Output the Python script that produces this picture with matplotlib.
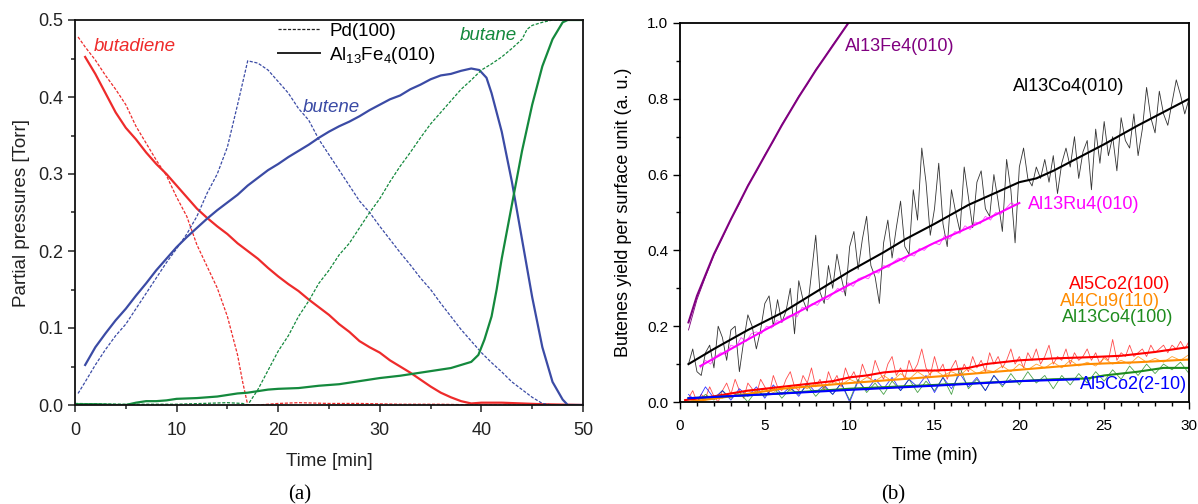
import numpy as np
import matplotlib
matplotlib.use("Agg")
import matplotlib.pyplot as plt
from matplotlib.lines import Line2D
from matplotlib.ticker import MultipleLocator

plt.rcParams['font.family'] = ['Liberation Sans', 'DejaVu Sans']
plt.rcParams['mathtext.default'] = 'regular'

# ---------------- Panel (a) data ----------------
# Al13Fe4(010) (solid)
fe_butadiene_t = [1, 2, 3, 4, 5, 6, 7, 8, 9, 10, 11, 12, 13, 14, 15, 16, 17, 18, 19, 20, 21, 22, 23, 24, 25, 26, 27, 28, 29, 30, 31, 32, 33, 34, 35, 36, 37, 38, 39, 40, 42, 44, 46, 50]
fe_butadiene_p = [0.452, 0.43, 0.405, 0.38, 0.36, 0.345, 0.328, 0.313, 0.30, 0.285, 0.27, 0.255, 0.243, 0.232, 0.222, 0.21, 0.20, 0.19, 0.178, 0.167, 0.157, 0.148, 0.137, 0.127, 0.117, 0.105, 0.095, 0.083, 0.075, 0.068, 0.058, 0.05, 0.042, 0.033, 0.024, 0.016, 0.01, 0.005, 0.002, 0.003, 0.003, 0.002, 0.001, 0.0]

fe_butene_t = [1, 2, 3, 4, 5, 6, 7, 8, 9, 10, 11, 12, 13, 14, 15, 16, 17, 18, 19, 20, 21, 22, 23, 24, 25, 26, 27, 28, 29, 30, 31, 32, 33, 34, 35, 36, 37, 38, 39, 39.8, 40.5, 41, 42, 43, 44, 45, 46, 47, 48, 48.5, 50]
fe_butene_p = [0.052, 0.075, 0.093, 0.11, 0.125, 0.142, 0.158, 0.175, 0.19, 0.205, 0.218, 0.23, 0.242, 0.253, 0.263, 0.273, 0.285, 0.295, 0.305, 0.313, 0.322, 0.33, 0.338, 0.347, 0.355, 0.362, 0.368, 0.375, 0.383, 0.39, 0.397, 0.402, 0.41, 0.416, 0.423, 0.428, 0.43, 0.434, 0.437, 0.435, 0.425, 0.405, 0.355, 0.29, 0.215, 0.14, 0.075, 0.03, 0.007, 0.0, 0.0]

fe_butane_t = [0, 2, 4, 5, 6, 7, 8, 9, 10, 12, 14, 15, 16, 17, 18, 19, 20, 22, 24, 26, 28, 30, 32, 33, 34, 36, 37, 38, 39, 39.7, 40.3, 41, 41.5, 42, 43, 44, 45, 46, 47, 48, 48.5, 50]
fe_butane_p = [0.001, 0.001, 0.0, 0.0, 0.003, 0.005, 0.005, 0.006, 0.008, 0.009, 0.011, 0.013, 0.015, 0.016, 0.018, 0.02, 0.021, 0.022, 0.025, 0.027, 0.031, 0.035, 0.038, 0.04, 0.042, 0.046, 0.048, 0.052, 0.056, 0.065, 0.085, 0.115, 0.15, 0.19, 0.26, 0.33, 0.39, 0.44, 0.475, 0.497, 0.5, 0.5]

# Pd(100) (dashed)
pd_butadiene_t = [0.3, 1, 2, 3, 4, 5, 6, 7, 8, 9, 10, 11, 12, 13, 14, 15, 16, 16.5, 17, 18, 20, 22, 25, 28, 32, 36, 40, 50]
pd_butadiene_p = [0.478, 0.465, 0.448, 0.428, 0.41, 0.39, 0.362, 0.34, 0.318, 0.298, 0.27, 0.245, 0.208, 0.18, 0.152, 0.115, 0.065, 0.03, 0.0, 0.0, 0.002, 0.003, 0.002, 0.002, 0.001, 0.001, 0.0, 0.0]

pd_butene_t = [0.3, 1, 2, 3, 4, 5, 6, 7, 8, 9, 10, 11, 12, 13, 14, 15, 16, 17, 18, 19, 20, 21, 22, 23, 24, 25, 26, 27, 28, 29, 30, 31, 32, 33, 34, 35, 36, 37, 38, 39, 40, 41, 42, 43, 44, 45, 46, 47, 50]
pd_butene_p = [0.015, 0.03, 0.052, 0.072, 0.09, 0.105, 0.125, 0.145, 0.165, 0.185, 0.203, 0.222, 0.245, 0.275, 0.3, 0.335, 0.39, 0.447, 0.444, 0.435, 0.42, 0.405, 0.385, 0.37, 0.345, 0.325, 0.305, 0.285, 0.265, 0.25, 0.232, 0.215, 0.198, 0.182, 0.165, 0.15, 0.132, 0.115, 0.098, 0.083, 0.068, 0.055, 0.043, 0.03, 0.02, 0.01, 0.002, 0.0, 0.0]

pd_butane_t = [0, 5, 10, 15, 16.5, 17, 18, 19, 20, 21, 22, 23, 24, 25, 26, 27, 28, 29, 30, 31, 32, 33, 34, 35, 36, 37, 38, 39, 40, 41, 42, 43, 44, 44.5, 45, 46, 47, 50]
pd_butane_p = [0.002, 0.001, 0.001, 0.003, 0.002, 0.0, 0.02, 0.045, 0.07, 0.09, 0.115, 0.135, 0.158, 0.175, 0.195, 0.21, 0.23, 0.25, 0.268, 0.29, 0.31, 0.328, 0.347, 0.365, 0.38, 0.395, 0.41, 0.422, 0.435, 0.443, 0.452, 0.463, 0.475, 0.488, 0.493, 0.497, 0.5, 0.5]

# ---------------- Panel (b) data ----------------
# Al13Fe4(010)
fe_raw_t = [0.5, 1, 1.5, 2, 2.5, 3, 3.5, 4, 4.5, 5, 5.5, 6, 6.5, 7, 7.5, 8, 8.5, 9, 9.5, 10]
fe_raw_y = [0.19, 0.27, 0.33, 0.387, 0.433, 0.482, 0.523, 0.572, 0.608, 0.652, 0.688, 0.732, 0.768, 0.807, 0.838, 0.877, 0.908, 0.942, 0.973, 1.005]
fe_fit_t = [0.5, 1, 1.5, 2, 3, 4, 5, 6, 7, 8, 9, 10]
fe_fit_y = [0.21, 0.28, 0.335, 0.39, 0.482, 0.57, 0.65, 0.73, 0.805, 0.875, 0.94, 1.005]

# Al13Co4(010), raw every 0.25 min from 0.5 to 30
co010_raw_y = [0.10, 0.14, 0.08, 0.07, 0.13, 0.15, 0.09, 0.20, 0.17, 0.11, 0.19, 0.20, 0.08, 0.16, 0.23, 0.20,
               0.14, 0.19, 0.26, 0.28, 0.20, 0.27, 0.21, 0.24, 0.30, 0.18, 0.32, 0.27, 0.24, 0.34, 0.44, 0.29,
               0.26, 0.36, 0.30, 0.39, 0.33, 0.28, 0.41, 0.45, 0.35, 0.43, 0.49, 0.36, 0.33, 0.26, 0.42, 0.48,
               0.38, 0.46, 0.53, 0.41, 0.39, 0.56, 0.48, 0.67, 0.58, 0.44, 0.51, 0.63, 0.47, 0.41, 0.56, 0.50,
               0.45, 0.62, 0.54, 0.46, 0.58, 0.61, 0.51, 0.49, 0.60, 0.53, 0.45, 0.64, 0.56, 0.42, 0.62, 0.67,
               0.59, 0.57, 0.62, 0.59, 0.64, 0.58, 0.65, 0.55, 0.63, 0.67, 0.62, 0.70, 0.59, 0.66, 0.69, 0.56,
               0.72, 0.63, 0.74, 0.65, 0.70, 0.61, 0.75, 0.69, 0.67, 0.76, 0.65, 0.72, 0.83, 0.75, 0.71, 0.82,
               0.76, 0.73, 0.79, 0.85, 0.81, 0.76, 0.80]
co010_fit_t = [0.5, 2, 4, 6, 8, 10, 12, 13.3, 15, 17, 19, 20, 21, 22, 23.5, 25, 27, 28.5, 30]
co010_fit_y = [0.10, 0.14, 0.19, 0.235, 0.29, 0.345, 0.395, 0.43, 0.47, 0.52, 0.56, 0.58, 0.59, 0.61, 0.645, 0.68, 0.73, 0.765, 0.80]

# Al13Ru4(010), raw every 0.3 min from 1.2 to 19.8
ru_raw_y = [0.09, 0.11, 0.10, 0.12, 0.13, 0.125, 0.15, 0.145, 0.17, 0.16, 0.18, 0.185, 0.18, 0.20, 0.195, 0.215,
            0.21, 0.225, 0.23, 0.225, 0.25, 0.245, 0.26, 0.255, 0.275, 0.27, 0.285, 0.30, 0.29, 0.315, 0.305, 0.325,
            0.33, 0.325, 0.345, 0.34, 0.36, 0.355, 0.37, 0.38, 0.37, 0.39, 0.385, 0.405, 0.40, 0.415, 0.42, 0.415,
            0.44, 0.43, 0.45, 0.445, 0.465, 0.455, 0.475, 0.47, 0.49, 0.48, 0.50, 0.495, 0.51, 0.525, 0.52]
ru_fit_t = [1.2, 3, 5, 7.5, 10, 12.5, 15, 17.5, 20]
ru_fit_y = [0.095, 0.14, 0.19, 0.25, 0.31, 0.365, 0.42, 0.47, 0.525]

# Al5Co2(100), raw every 0.25 min from 0.5 to 30
c100_raw_y = [0.01, 0.03, 0.0, 0.02, 0.01, 0.04, 0.015, 0.0, 0.03, 0.05, 0.02, 0.06, 0.03, 0.01, 0.05, 0.035,
              0.02, 0.06, 0.04, 0.02, 0.07, 0.04, 0.03, 0.06, 0.08, 0.04, 0.03, 0.07, 0.05, 0.09, 0.04, 0.06,
              0.03, 0.08, 0.05, 0.07, 0.04, 0.09, 0.06, 0.08, 0.05, 0.10, 0.07, 0.06, 0.11, 0.08, 0.06, 0.10,
              0.12, 0.07, 0.09, 0.06, 0.11, 0.08, 0.10, 0.14, 0.09, 0.07, 0.12, 0.08, 0.10, 0.06, 0.09, 0.11,
              0.07, 0.10, 0.08, 0.12, 0.09, 0.11, 0.08, 0.13, 0.10, 0.12, 0.09, 0.11, 0.14, 0.10, 0.12, 0.09,
              0.13, 0.11, 0.14, 0.10, 0.12, 0.15, 0.10, 0.12, 0.11, 0.14, 0.10, 0.13, 0.11, 0.12, 0.14, 0.11,
              0.13, 0.10, 0.12, 0.11, 0.165, 0.11, 0.13, 0.12, 0.15, 0.12, 0.13, 0.14, 0.12, 0.15, 0.13, 0.14,
              0.15, 0.13, 0.15, 0.14, 0.16, 0.14, 0.16]
c100_fit_t = [0.3, 2, 4, 6, 8, 9, 10, 11, 12, 13, 14, 15, 16, 17, 18, 19, 20, 22, 24, 26, 28, 30]
c100_fit_y = [0.005, 0.015, 0.03, 0.04, 0.05, 0.055, 0.065, 0.07, 0.078, 0.082, 0.083, 0.083, 0.085, 0.09, 0.10, 0.105, 0.11, 0.115, 0.118, 0.122, 0.132, 0.145]

# Al4Cu9(110), raw every 0.5 min from 0.5 to 30
cu_raw_y = [0.0, 0.01, 0.005, 0.015, 0.01, 0.025, 0.015, 0.03, 0.02, 0.035, 0.025, 0.04, 0.03, 0.045, 0.035,
            0.05, 0.04, 0.055, 0.045, 0.06, 0.05, 0.065, 0.055, 0.07, 0.055, 0.075, 0.06, 0.08, 0.065, 0.085,
            0.07, 0.08, 0.07, 0.09, 0.075, 0.085, 0.08, 0.095, 0.08, 0.10, 0.085, 0.10, 0.09, 0.105, 0.09,
            0.11, 0.095, 0.105, 0.095, 0.115, 0.10, 0.11, 0.10, 0.12, 0.105, 0.115, 0.105, 0.12, 0.11, 0.125]
cu_fit_t = [0.5, 3, 6, 10, 13, 16, 20, 24, 27, 30]
cu_fit_y = [0.0, 0.015, 0.035, 0.05, 0.06, 0.07, 0.085, 0.10, 0.105, 0.112]

# Al13Co4(100), raw every 0.5 min from 0.5 to 30
co100_raw_y = [0.01, 0.0, 0.02, 0.005, 0.03, 0.01, 0.025, 0.0, 0.03, 0.015, 0.04, 0.01, 0.035, 0.02, 0.045,
               0.015, 0.04, 0.02, 0.05, 0.005, 0.06, 0.025, 0.05, 0.02, 0.055, 0.03, 0.06, 0.025, 0.055, 0.03,
               0.065, 0.02, 0.09, 0.035, 0.06, 0.03, 0.07, 0.04, 0.075, 0.045, 0.08, 0.05, 0.07, 0.035, 0.07,
               0.045, 0.075, 0.05, 0.08, 0.055, 0.085, 0.06, 0.095, 0.07, 0.10, 0.075, 0.10, 0.085, 0.105, 0.075]
co100_fit_t = [0.5, 5, 10, 15, 20, 22, 24, 25, 27, 28.5, 30]
co100_fit_y = [0.01, 0.02, 0.035, 0.045, 0.055, 0.06, 0.062, 0.07, 0.08, 0.09, 0.09]

# Al5Co2(2-10), raw every 0.5 min from 0.5 to 19.5
c210_raw_y = [0.02, 0.0, 0.04, 0.01, 0.03, 0.005, 0.035, 0.015, 0.04, 0.01, 0.045, 0.02, 0.04, 0.015, 0.05,
              0.025, 0.045, 0.02, 0.05, 0.0, 0.055, 0.03, 0.06, 0.035, 0.065, 0.03, 0.06, 0.04, 0.07, 0.025,
              0.065, 0.035, 0.075, 0.04, 0.065, 0.03, 0.07, 0.045, 0.06]
c210_fit_t = [0.5, 5, 10, 15, 20, 23.5]
c210_fit_y = [0.01, 0.02, 0.032, 0.043, 0.055, 0.06]

# ---------------- Figure ----------------
RED = '#EE2B2B'
BLUE = '#3B4BA5'
GREEN = '#14893D'

fig = plt.figure(figsize=(11.98, 5.04), dpi=100)
axa = fig.add_axes([75/1198, 1-405/504, 508/1198, 385/504])
axb = fig.add_axes([680/1198, 1-402/504, 509/1198, 379/504])

dash = (0, (2.5, 1.3))
lw_s = 1.6
lw_d = 0.9
axa.plot(fe_butadiene_t, fe_butadiene_p, color=RED, lw=lw_s)
axa.plot(pd_butadiene_t, pd_butadiene_p, color=RED, lw=lw_d, ls=dash)
axa.plot(fe_butene_t, fe_butene_p, color=BLUE, lw=lw_s)
axa.plot(pd_butene_t, pd_butene_p, color=BLUE, lw=lw_d, ls=dash)
axa.plot(fe_butane_t, fe_butane_p, color=GREEN, lw=lw_s)
axa.plot(pd_butane_t, pd_butane_p, color=GREEN, lw=lw_d, ls=dash)

axa.set_xlim(0, 50)
axa.set_ylim(0, 0.5)
axa.xaxis.set_major_locator(MultipleLocator(10))
axa.xaxis.set_minor_locator(MultipleLocator(5))
axa.yaxis.set_major_locator(MultipleLocator(0.1))
axa.yaxis.set_minor_locator(MultipleLocator(0.05))
axa.yaxis.set_major_formatter(matplotlib.ticker.FormatStrFormatter('%.1f'))
axa.tick_params(which='both', direction='out', labelsize=13, colors='#222222', width=1.1)
axa.tick_params(which='major', length=5)
axa.tick_params(which='minor', length=3)
axa.tick_params(axis='x', pad=7)
axa.set_xlabel('Time [min]', fontsize=13.5, color='#222222', labelpad=10)
axa.set_ylabel('Partial pressures [Torr]', fontsize=13.5, color='#222222', labelpad=6)
for s in axa.spines.values():
    s.set_linewidth(1.3)
    s.set_color('#111111')

axa.text(1.8, 0.465, 'butadiene', color=RED, fontsize=13.5, style='italic', va='center')
axa.text(22.4, 0.387, 'butene', color=BLUE, fontsize=13.5, style='italic', va='center')
axa.text(37.9, 0.48, 'butane', color=GREEN, fontsize=13.5, style='italic', va='center')

handles = [Line2D([], [], color='#222222', lw=0.9, ls=dash),
           Line2D([], [], color='#222222', lw=1.4)]
axa.legend(handles, ['Pd(100)', r'Al$_{13}$Fe$_{4}$(010)'], loc='upper left',
           bbox_to_anchor=(0.395, 1.0), frameon=False, fontsize=13.5, handlelength=2.2,
           handletextpad=0.5, borderpad=0.15, labelspacing=0.25, borderaxespad=0)

# Panel (b)
t_co010 = np.linspace(0.5, 30, len(co010_raw_y))
t_c100 = np.linspace(0.5, 30, len(c100_raw_y))
t_ru = np.linspace(1.2, 19.8, len(ru_raw_y))
t_cu = np.linspace(0.5, 30, len(cu_raw_y))
t_co100 = np.linspace(0.5, 30, len(co100_raw_y))
t_c210 = np.linspace(0.5, 19.5, len(c210_raw_y))

PURPLE = '#800080'
MAG = '#FF00FF'
R2 = '#FF0000'
OR = '#FF8C00'
G2 = '#1E8C1E'
B2 = '#0000FF'
lw_raw = 0.6
lw_fit = 1.5

axb.plot(t_c100, c100_raw_y, color=R2, lw=lw_raw, alpha=0.7)
axb.plot(t_cu, cu_raw_y, color=OR, lw=lw_raw, alpha=0.8)
axb.plot(t_co100, co100_raw_y, color=G2, lw=lw_raw, alpha=0.8)
axb.plot(t_c210, c210_raw_y, color=B2, lw=lw_raw, alpha=0.8)
axb.plot(t_co010, co010_raw_y, color='#333333', lw=lw_raw)
axb.plot(t_ru, ru_raw_y, color=MAG, lw=lw_raw, alpha=0.7)
axb.plot(fe_raw_t, fe_raw_y, color=PURPLE, lw=lw_raw)

axb.plot(c100_fit_t, c100_fit_y, color=R2, lw=lw_fit)
axb.plot(cu_fit_t, cu_fit_y, color=OR, lw=lw_fit)
axb.plot(co100_fit_t, co100_fit_y, color=G2, lw=lw_fit)
axb.plot(c210_fit_t, c210_fit_y, color=B2, lw=lw_fit)
axb.plot(co010_fit_t, co010_fit_y, color='black', lw=lw_fit)
axb.plot(ru_fit_t, ru_fit_y, color=MAG, lw=lw_fit)
axb.plot(fe_fit_t, fe_fit_y, color=PURPLE, lw=lw_fit)

axb.set_xlim(0, 30)
axb.set_ylim(0, 1.0)
axb.xaxis.set_major_locator(MultipleLocator(5))
axb.xaxis.set_minor_locator(MultipleLocator(1))
axb.yaxis.set_major_locator(MultipleLocator(0.2))
axb.yaxis.set_minor_locator(MultipleLocator(0.1))
axb.yaxis.set_major_formatter(matplotlib.ticker.FormatStrFormatter('%.1f'))
axb.tick_params(which='both', direction='out', labelsize=11, width=1.0)
axb.tick_params(which='major', length=5)
axb.tick_params(which='minor', length=3)
axb.tick_params(axis='x', pad=7)
axb.set_xlabel('Time (min)', fontsize=13, labelpad=10)
axb.set_ylabel('Butenes yield per surface unit (a. u.)', fontsize=13, labelpad=11)
for s in axb.spines.values():
    s.set_linewidth(1.3)

axb.text(9.7, 0.939, 'Al13Fe4(010)', color=PURPLE, fontsize=13, va='center')
axb.text(19.6, 0.833, 'Al13Co4(010)', color='black', fontsize=13, va='center')
axb.text(20.5, 0.521, 'Al13Ru4(010)', color=MAG, fontsize=13, va='center')
axb.text(28.9, 0.31, 'Al5Co2(100)', color=R2, fontsize=13, va='center', ha='right')
axb.text(28.3, 0.265, 'Al4Cu9(110)', color=OR, fontsize=13, va='center', ha='right')
axb.text(29.1, 0.222, 'Al13Co4(100)', color=G2, fontsize=13, va='center', ha='right')
axb.text(29.9, 0.045, 'Al5Co2(2-10)', color=B2, fontsize=13, va='center', ha='right')

fig.text(300/1198, 1-495/504, '(a)', ha='center', va='center', fontsize=15, family='Liberation Serif')
fig.text(893/1198, 1-495/504, '(b)', ha='center', va='center', fontsize=15, family='Liberation Serif')

fig.savefig('out.png', dpi=100)
